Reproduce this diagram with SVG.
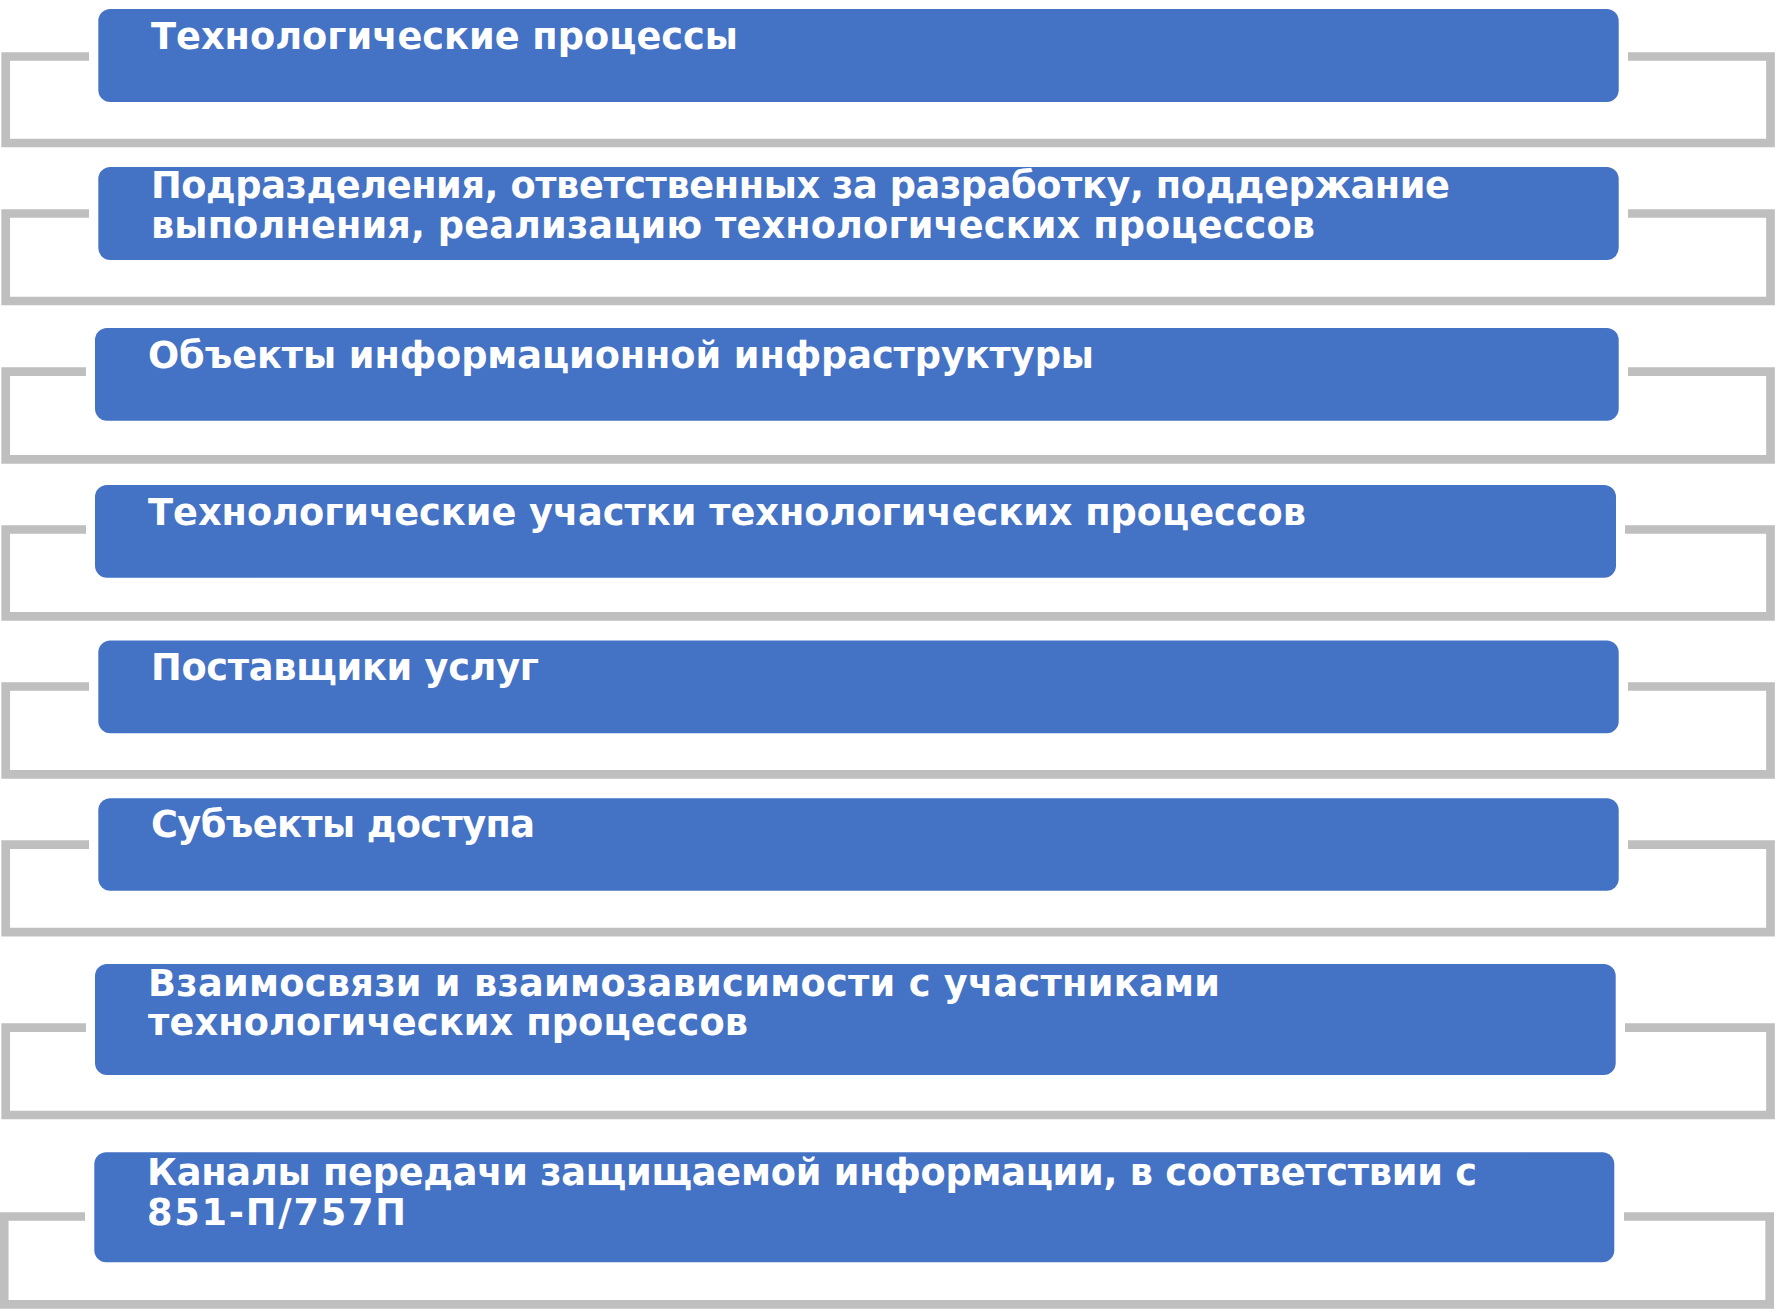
<svg xmlns="http://www.w3.org/2000/svg" width="1775" height="1309" viewBox="0 0 1775 1309">
<style>
.bg{fill:#ffffff}
.box{fill:#4472C4}
.t{fill:#ffffff;font-family:"DejaVu Sans","Verdana","Liberation Sans",sans-serif;font-weight:bold;font-size:36.7px}
.br{fill:none;stroke:#BFBFBF;stroke-width:8.7;stroke-linejoin:miter;stroke-linecap:butt}
</style>
<rect class="bg" x="0" y="0" width="1775" height="1309"/>
<g id="connectors">
<path class="br" d="M89,56.5 H5.7 V143 H1770.5 V56.5 H1628"/>
<path class="br" d="M89,213.5 H5.7 V301 H1770.5 V213.5 H1628"/>
<path class="br" d="M86,371.7 H5.7 V459.3 H1770.5 V371.7 H1628"/>
<path class="br" d="M86,529.5 H5.7 V616.3 H1770.5 V529.5 H1625"/>
<path class="br" d="M89,686.5 H5.7 V774.3 H1770.5 V686.5 H1628"/>
<path class="br" d="M89,844.7 H5.7 V932.2 H1770.5 V844.7 H1628"/>
<path class="br" d="M86,1027.7 H5.7 V1115 H1770.5 V1027.7 H1625"/>
<path class="br" d="M85,1216.5 H4.2 V1304.3 H1769.7 V1216.5 H1624"/>
</g>
<g id="node1">
<rect class="box" x="98.3" y="9" width="1520.4" height="93" rx="12"/>
<text class="t" x="151" y="49" textLength="587" lengthAdjust="spacing">Технологические процессы</text>
</g>
<g id="node2">
<rect class="box" x="98.3" y="167" width="1520.4" height="93" rx="12"/>
<text class="t" x="151" y="198" textLength="1299" lengthAdjust="spacing">Подразделения, ответственных за разработку, поддержание</text>
<text class="t" x="151" y="238" textLength="1164" lengthAdjust="spacing">выполнения, реализацию технологических процессов</text>
</g>
<g id="node3">
<rect class="box" x="95" y="328" width="1523.7" height="92.7" rx="12"/>
<text class="t" x="148" y="368" textLength="946" lengthAdjust="spacing">Объекты информационной инфраструктуры</text>
</g>
<g id="node4">
<rect class="box" x="95" y="485" width="1521" height="92.7" rx="12"/>
<text class="t" x="148" y="525" textLength="1158" lengthAdjust="spacing">Технологические участки технологических процессов</text>
</g>
<g id="node5">
<rect class="box" x="98.3" y="640.5" width="1520.4" height="92.8" rx="12"/>
<text class="t" x="151" y="680" textLength="388" lengthAdjust="spacing">Поставщики услуг</text>
</g>
<g id="node6">
<rect class="box" x="98.3" y="798.3" width="1520.4" height="92.4" rx="12"/>
<text class="t" x="151" y="837" textLength="384" lengthAdjust="spacing">Субъекты доступа</text>
</g>
<g id="node7">
<rect class="box" x="95" y="964" width="1520.7" height="111" rx="12"/>
<text class="t" x="148" y="996" textLength="1072" lengthAdjust="spacing">Взаимосвязи и взаимозависимости с участниками</text>
<text class="t" x="148" y="1035" textLength="600" lengthAdjust="spacing">технологических процессов</text>
</g>
<g id="node8">
<rect class="box" x="94.3" y="1152.3" width="1520" height="110" rx="12"/>
<text class="t" x="147" y="1185" textLength="1330" lengthAdjust="spacing">Каналы передачи защищаемой информации, в соответствии с</text>
<text class="t" x="147" y="1225" textLength="259" lengthAdjust="spacing">851-П/757П</text>
</g>
</svg>
